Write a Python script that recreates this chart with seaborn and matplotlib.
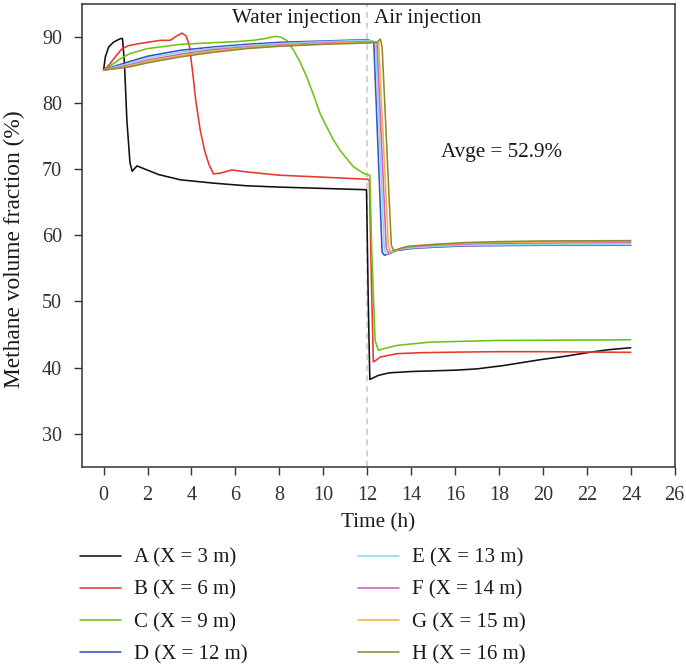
import numpy as np
import pandas as pd
import matplotlib
matplotlib.use('Agg')
import matplotlib.pyplot as plt
import seaborn as sns

# 데이터
labels = ['A (X = 3 m)', 'B (X = 6 m)', 'C (X = 9 m)', 'D (X = 12 m)',
          'E (X = 13 m)', 'F (X = 14 m)', 'G (X = 15 m)', 'H (X = 16 m)']
colors = ['#111111', '#e8372b', '#6cc414', '#3f4fbf',
          '#86d8ef', '#d45ec4', '#f0b23c', '#8c8a32']

t_a = [0, 0.08, 0.23, 0.46, 0.76, 0.86, 0.95, 1.06, 1.2, 1.3, 1.52, 1.75, 2.5, 3.5, 5, 6.5,
       8, 10, 11.97, 12.05, 12.12, 12.5, 13, 14, 15, 16, 17, 18.2, 19.9, 21, 22.2, 23, 24]
y_a = [85, 87, 88.5, 89.25, 89.75, 89.8, 86, 77.4, 71, 69.7, 70.5, 70.2, 69.2, 68.4, 67.9, 67.5,
       67.3, 67.1, 66.9, 50, 38.2, 38.8, 39.2, 39.4, 39.5, 39.6, 39.8, 40.3, 41.2, 41.7, 42.35, 42.7, 43.0]

t_b = [0, 0.23, 0.53, 0.83, 1.13, 1.6, 2.58, 3.03, 3.3, 3.57, 3.75, 3.9, 4.05, 4.2, 4.4, 4.6, 4.8, 5.0,
       5.3, 5.84, 6.5, 8, 10, 11.95, 12.1, 12.2, 12.28, 12.4, 12.6, 13.35, 14.5, 16.4, 18, 20, 22, 24]
y_b = [85, 85.7, 87, 88.2, 88.7, 89.0, 89.5, 89.5, 90.1, 90.6, 90.2, 88.8, 84.8, 80.3, 75.9, 72.8, 70.7, 69.3,
       69.4, 69.9, 69.6, 69.1, 68.8, 68.5, 68.4, 52, 40.85, 41.1, 41.6, 42.1, 42.25, 42.35, 42.4, 42.4, 42.35, 42.3]

t_c = [0, 0.2, 0.46, 0.8, 1.2, 2, 3.5, 5, 6, 6.8, 7.4, 7.8, 8.05, 8.34, 8.65, 8.95, 9.25, 9.56,
       9.86, 10.16, 10.47, 10.77, 11.07, 11.37, 11.68, 11.9, 12.12, 12.21, 12.36, 12.51, 12.74,
       13.35, 14.87, 17.9, 24]
y_c = [85, 85.4, 86.0, 86.8, 87.5, 88.25, 88.9, 89.15, 89.3, 89.5, 89.8, 90.1, 90.0, 89.5, 88.0,
       86.2, 83.95, 81.2, 78.4, 76.4, 74.4, 72.85, 71.6, 70.4, 69.7, 69.3, 69.1, 57.3, 44.1, 42.6,
       42.85, 43.35, 43.85, 44.1, 44.2]

t_d = [0, 0.5, 1.2, 2, 3.5, 5, 6.5, 8, 10, 12, 12.3, 12.68, 12.78, 13.0, 13.35, 14, 15, 16.4, 18, 20, 24]
y_d = [85, 85.6, 86.3, 87.1, 88.0, 88.5, 88.9, 89.2, 89.4, 89.6, 89.3, 57.5, 57.0, 57.2, 57.7, 58.0,
       58.2, 58.4, 58.45, 58.5, 58.5]

t_e = [0, 0.5, 1.2, 2, 3.5, 5, 6.5, 8, 10, 12, 12.38, 12.78, 12.88, 13.1, 13.5, 14, 15, 16.4, 18, 20, 24]
y_e = [85, 85.45, 86.0, 86.8, 87.7, 88.3, 88.7, 89.0, 89.3, 89.5, 89.3, 57.8, 57.2, 57.4, 57.9, 58.1,
       58.3, 58.5, 58.55, 58.6, 58.6]

t_f = [0, 0.5, 1.2, 2, 3.5, 5, 6.5, 8, 10, 12, 12.45, 12.87, 12.97, 13.2, 13.6, 14, 15, 16.4, 18, 20, 24]
y_f = [85, 85.3, 85.8, 86.5, 87.4, 88.1, 88.5, 88.8, 89.1, 89.3, 89.2, 58.0, 57.4, 57.6, 58.1, 58.3,
       58.5, 58.7, 58.8, 58.85, 58.9]

t_g = [0, 0.5, 1.2, 2, 3.5, 5, 6.5, 8, 10, 12, 12.52, 12.97, 13.07, 13.3, 13.7, 14, 15, 16.4, 18, 20, 24]
y_g = [85, 85.25, 85.65, 86.3, 87.2, 87.9, 88.4, 88.7, 89.0, 89.2, 89.2, 58.2, 57.5, 57.7, 58.2, 58.4,
       58.6, 58.8, 58.95, 59.0, 59.1]

t_h = [0, 0.5, 1.2, 2, 3.5, 5, 6.5, 8, 10, 12, 12.45, 12.6, 12.68, 13.1, 13.2, 13.4, 13.8, 14.9, 16.4, 18, 20, 24]
y_h = [85, 85.2, 85.5, 86.1, 87.0, 87.7, 88.25, 88.6, 88.9, 89.1, 89.2, 89.7, 88.5, 58.5, 57.7, 57.9,
       58.3, 58.6, 58.9, 59.05, 59.15, 59.2]

times = [t_a, t_b, t_c, t_d, t_e, t_f, t_g, t_h]
values = [y_a, y_b, y_c, y_d, y_e, y_f, y_g, y_h]

frames = []
for lab, t, y in zip(labels, times, values):
    frames.append(pd.DataFrame({'time': t, 'frac': y, 'point': lab}))
df = pd.concat(frames, ignore_index=True)

sns.set_theme(style='ticks')
plt.rcParams['font.family'] = ['Liberation Serif', 'DejaVu Serif']
plt.rcParams['axes.edgecolor'] = '#333333'
plt.rcParams['xtick.color'] = '#333333'
plt.rcParams['ytick.color'] = '#333333'
plt.rcParams['text.color'] = '#1a1a1a'
plt.rcParams['axes.labelcolor'] = '#1a1a1a'

fs = 14.5
fig = plt.figure(figsize=(6.86, 6.67), dpi=100)
ax = fig.add_axes([0.119, 0.3003, 0.8645, 0.6937])

ax.axvline(12, color='#c8c8c8', linestyle=(0, (4, 3)), linewidth=1.1, zorder=0)

sns.lineplot(data=df, x='time', y='frac', hue='point', palette=dict(zip(labels, colors)),
             sort=False, estimator=None, linewidth=1.15, ax=ax, legend=False)

ax.set_xlim(-1, 26)
ax.set_ylim(25, 95)
ax.set_xticks(np.arange(0, 27, 2))
ax.set_yticks(np.arange(30, 91, 10))
ax.tick_params(axis='both', direction='out', length=6, width=1, labelsize=fs, pad=8)
for s in ax.spines.values():
    s.set_linewidth(1.1)
ax.set_xlabel('Time (h)', fontsize=15.3, labelpad=6)
ax.set_ylabel('Methane volume fraction (%)', fontsize=16.8)
ax.yaxis.set_label_coords(-0.096, 0.471)

ax.text(11.75, 92.8, 'Water injection', ha='right', va='center', fontsize=15.2)
ax.text(12.32, 92.8, 'Air injection', ha='left', va='center', fontsize=15.2)
ax.text(15.36, 72.55, 'Avge = 52.9%', ha='left', va='center', fontsize=15.2)

handles = [plt.Line2D([], [], color=c, linewidth=1.15) for c in colors]
fig.legend(handles, labels, loc='upper left', bbox_to_anchor=(0.116, 0.178), ncol=2,
           frameon=False, fontsize=15, handlelength=2.0, handletextpad=0.6,
           columnspacing=5.3, labelspacing=0.6, borderpad=0, borderaxespad=0)

fig.savefig('out.png', dpi=100)
